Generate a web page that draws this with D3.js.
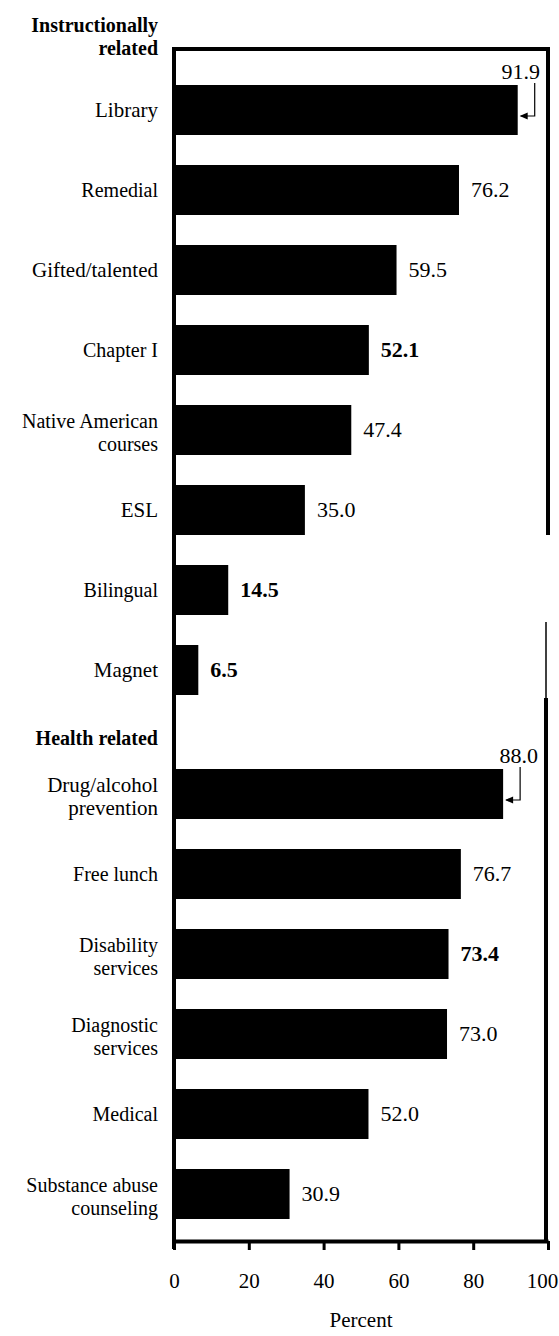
<!DOCTYPE html>
<html>
<head>
<meta charset="utf-8">
<script src="https://cdn.jsdelivr.net/npm/d3@7"></script>
<style>
  body { margin: 0; background: #fff; }
  svg { display: block; }
  text { font-family: "Liberation Serif", serif; }
</style>
</head>
<body>
<div id="container"></div>
<script>
// chart data
const instructionalServices = ["Library", "Remedial", "Gifted/talented", "Chapter I",
    "Native American\ncourses", "ESL", "Bilingual", "Magnet"];
const instructionalPercent = [91.9, 76.2, 59.5, 52.1, 47.4, 35.0, 14.5, 6.5];

const healthServices = ["Drug/alcohol\nprevention", "Free lunch", "Disability\nservices",
    "Diagnostic\nservices", "Medical", "Substance abuse\ncounseling"];
const healthPercent = [88.0, 76.7, 73.4, 73.0, 52.0, 30.9];

const xTicks = [0, 20, 40, 60, 80, 100];
const axisTitle = "Percent";

document.addEventListener("DOMContentLoaded", function () {

    const width = 559;
    const height = 1336;
    const left = 174;
    const right = 548;
    const axisY = 1241;
    const serif = "Liberation Serif";

    const svg = d3.select("#container").append("svg")
        .attr("width", width)
        .attr("height", height)
        .attr("font-family", serif);

    //----------------------------SCALES-----------------------------//

    const xScale = d3.scaleLinear().domain([0, 100]).range([left, right]);

    const yInstr = d3.scaleBand()
        .domain(instructionalServices)
        .range([55, 725])
        .padding(0.375);

    const yHealth = d3.scaleBand()
        .domain(healthServices)
        .range([739, 1249])
        .padding(0.375);

    // the print set some labels a bit bigger, and some numbers heavier
    const biggerLabels = ["Library", "Gifted/talented", "ESL", "Magnet", "Drug/alcohol\nprevention"];
    const heavyValues = ["Chapter I", "Bilingual", "Magnet", "Disability\nservices"];

    //----------------------------FRAME------------------------------//

    const frame = svg.append("g").attr("stroke", "#000").attr("fill", "none");
    frame.append("line").attr("x1", left - 2).attr("x2", right + 2)
        .attr("y1", 49).attr("y2", 49).attr("stroke-width", 4);
    frame.append("line").attr("x1", right).attr("x2", right)
        .attr("y1", 47).attr("y2", 535).attr("stroke-width", 4);
    frame.append("line").attr("x1", right - 2).attr("x2", right - 2)
        .attr("y1", 622).attr("y2", 698).attr("stroke-width", 1.5);
    frame.append("line").attr("x1", right - 2).attr("x2", right - 2)
        .attr("y1", 698).attr("y2", axisY).attr("stroke-width", 4);
    frame.append("line").attr("x1", left).attr("x2", left)
        .attr("y1", 47).attr("y2", axisY + 8).attr("stroke-width", 4);

    //----------------------------GROUPS-----------------------------//

    const groups = [
        { title: ["Instructionally", "related"], titleY: 32, names: instructionalServices, values: instructionalPercent, y: yInstr },
        { title: ["Health related"], titleY: 745, names: healthServices, values: healthPercent, y: yHealth }
    ];

    groups.forEach(function (g) {
        const rows = g.names.map(function (n, i) { return { name: n, value: g.values[i] }; });

        // group heading
        svg.append("text")
            .attr("x", 158)
            .attr("y", g.titleY)
            .attr("text-anchor", "end")
            .attr("font-weight", "bold")
            .attr("font-size", 20)
            .selectAll("tspan")
            .data(g.title)
            .enter()
            .append("tspan")
            .attr("x", 158)
            .attr("dy", function (d, i) { return i === 0 ? 0 : 23; })
            .text(function (d) { return d; });

        // bars
        svg.append("g").selectAll("rect")
            .data(rows)
            .enter()
            .append("rect")
            .attr("x", xScale(0))
            .attr("y", function (d) { return g.y(d.name); })
            .attr("width", function (d) { return xScale(d.value) - xScale(0); })
            .attr("height", g.y.bandwidth())
            .attr("fill", "#000");

        // category labels
        const labels = svg.append("g").selectAll("text")
            .data(rows)
            .enter()
            .append("text")
            .attr("text-anchor", "end")
            .attr("font-size", function (d) { return biggerLabels.includes(d.name) ? 21 : 20; })
            .attr("y", function (d) {
                const c = g.y(d.name) + g.y.bandwidth() / 2;
                return d.name.includes("\n") ? c - 2 : c + 7;
            });

        labels.selectAll("tspan")
            .data(function (d) { return d.name.split("\n"); })
            .enter()
            .append("tspan")
            .attr("x", 158)
            .attr("dy", function (d, i) { return i === 0 ? 0 : 23; })
            .text(function (d) { return d; });

        // value labels
        rows.forEach(function (d) {
            const xe = xScale(d.value);
            const top = g.y(d.name);
            const mid = top + g.y.bandwidth() / 2;
            const text = d.value.toFixed(1);

            if (xe + 60 > right) {
                // no room beside the bar: label above with a hooked arrow
                const ax = xe + 17;
                svg.append("text")
                    .attr("x", Math.min(xe + 35, 540))
                    .attr("y", top - 6)
                    .attr("text-anchor", "end")
                    .attr("font-size", 22)
                    .text(text);
                svg.append("path")
                    .attr("d", "M" + ax + "," + (top - 2) + "V" + (mid + 6) + "H" + (xe + 3))
                    .attr("fill", "none")
                    .attr("stroke", "#000")
                    .attr("stroke-width", 1.2);
                svg.append("path")
                    .attr("d", "M" + (xe + 2) + "," + (mid + 6) + "l8,-3.5v7z")
                    .attr("fill", "#000");
            } else {
                svg.append("text")
                    .attr("x", xe + 12)
                    .attr("y", mid + 7)
                    .attr("font-size", 22)
                    .attr("font-weight", heavyValues.includes(d.name) ? "bold" : "normal")
                    .text(text);
            }
        });
    });

    //-----------------------------AXIS------------------------------//

    const xAxis = d3.axisBottom(xScale)
        .tickValues(xTicks)
        .tickSize(9)
        .tickSizeOuter(0)
        .tickPadding(23)
        .tickFormat(d3.format("d"));

    const gx = svg.append("g")
        .attr("transform", "translate(0," + axisY + ")")
        .call(xAxis)
        .attr("font-family", serif);

    gx.select(".domain").attr("stroke-width", 4).attr("stroke", "#000");
    gx.selectAll(".tick line").attr("stroke-width", 3).attr("stroke", "#000");
    gx.selectAll(".tick text")
        .attr("font-size", 21)
        .attr("fill", "#000")
        .attr("dx", function (d) { return d === 100 ? -6 : 0; });

    svg.append("text")
        .attr("x", (left + right) / 2)
        .attr("y", 1327)
        .attr("text-anchor", "middle")
        .attr("font-size", 21)
        .text(axisTitle);
});
</script>
</body>
</html>
